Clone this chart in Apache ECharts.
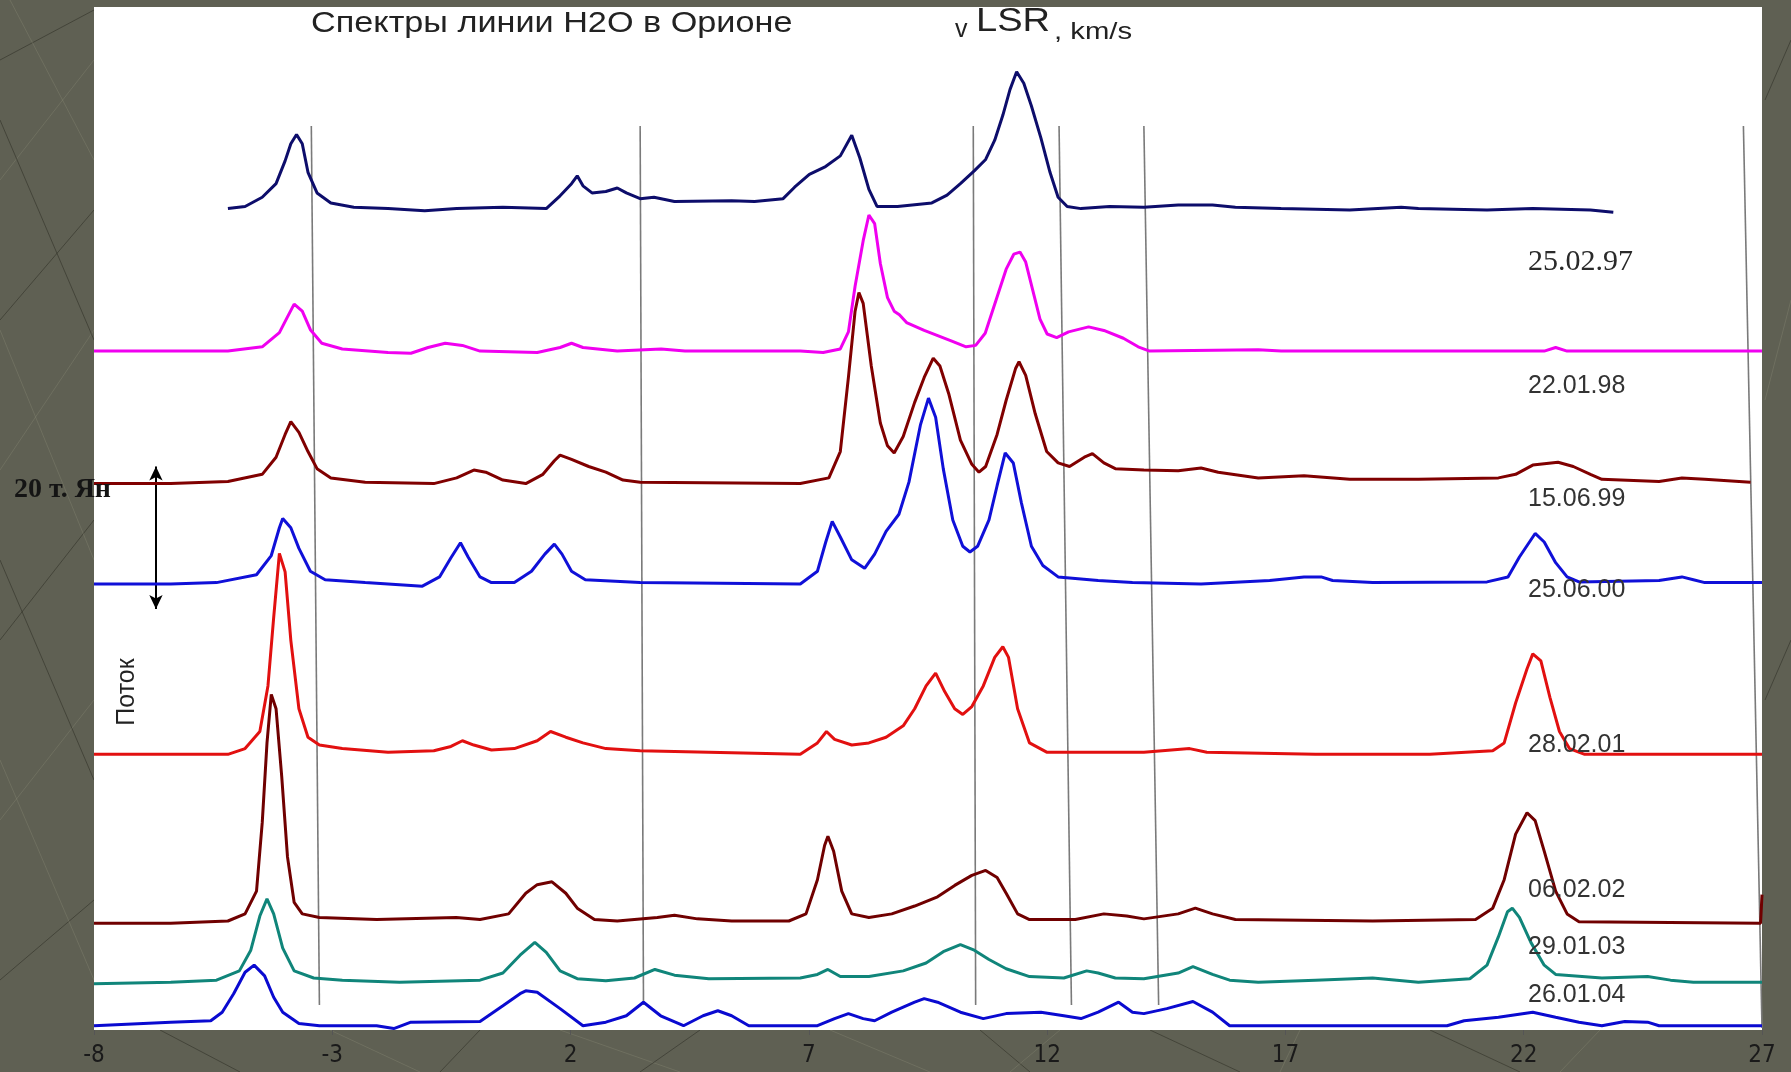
<!DOCTYPE html>
<html><head><meta charset="utf-8">
<script src="https://cdn.jsdelivr.net/npm/echarts@6/dist/echarts.min.js"></script>
<style>html,body{margin:0;padding:0;background:#5f6053;}#c{width:1791px;height:1072px;}</style>
</head><body><div id="c"></div>
<script>
// x axis: velocity V_LSR, km/s ; y: flux in thousands of Jy (each spectrum shifted by an offset)
const velocityTicks = [-8, -3, 2, 7, 12, 17, 22, 27];
const dates = ['25.02.97', '22.01.98', '15.06.99', '25.06.00', '28.02.01', '06.02.02', '29.01.03', '26.01.04'];
const offsets = [115.6, 95.6, 77.0, 62.9, 39.0, 15.3, 7.0, 0.9];
const colors = ['#0d0d6b', '#f000f0', '#800000', '#1010d8', '#e21010', '#700000', '#10857a', '#0a0ad0'];

const s97 = [[-5.19,0],[-4.83,0.3],[-4.47,1.6],[-4.18,3.5],[-3.99,6.7],[-3.87,9.1],[-3.75,10.4],[-3.63,9.1],[-3.51,5.1],[-3.32,2.2],[-3.03,0.8],[-2.55,0.2],[-1.83,0],[-1.06,-0.3],[-0.39,0],[0.58,0.2],[1.49,0],[1.78,1.8],[2.02,3.5],[2.14,4.6],[2.26,3.2],[2.45,2.2],[2.74,2.4],[2.98,2.9],[3.17,2.2],[3.46,1.4],[3.75,1.6],[4.18,1.0],[5.38,1.1],[5.86,1.0],[6.46,1.4],[6.70,3.0],[7.01,4.8],[7.35,5.9],[7.66,7.4],[7.90,10.3],[8.07,7.1],[8.26,2.7],[8.43,0.3],[8.86,0.3],[9.58,0.8],[9.90,1.9],[10.18,3.5],[10.47,5.3],[10.71,6.9],[10.90,9.6],[11.07,13.1],[11.22,16.7],[11.36,19.2],[11.51,17.6],[11.67,14.4],[11.87,9.9],[12.06,5.1],[12.23,1.6],[12.42,0.3],[12.71,0],[13.31,0.3],[14.03,0.2],[14.75,0.5],[15.47,0.5],[15.95,0.2],[16.91,0],[18.35,-0.2],[19.43,0.2],[19.79,0],[21.23,-0.2],[22.19,0],[23.40,-0.2],[23.88,-0.5]];

const s98 = [[-8,0],[-5.19,0],[-4.47,0.6],[-4.11,2.6],[-3.94,4.8],[-3.80,6.6],[-3.63,5.6],[-3.46,3.0],[-3.22,1.1],[-2.79,0.3],[-1.83,-0.2],[-1.35,-0.3],[-0.99,0.5],[-0.63,1.1],[-0.27,0.8],[0.10,0],[1.30,-0.2],[1.78,0.5],[2.02,1.1],[2.26,0.5],[2.98,0],[3.9,0.3],[4.4,0],[6.82,0],[7.30,-0.2],[7.66,0.3],[7.83,2.7],[7.97,9.1],[8.14,15.5],[8.26,19.1],[8.38,17.9],[8.50,12.3],[8.65,7.5],[8.79,5.6],[8.90,5.1],[9.05,4.0],[9.42,2.9],[10.0,1.4],[10.30,0.6],[10.50,0.8],[10.70,2.5],[10.92,7.0],[11.14,11.5],[11.30,13.6],[11.43,13.9],[11.55,12.5],[11.70,8.5],[11.85,4.5],[12.00,2.4],[12.20,1.9],[12.45,2.7],[12.87,3.4],[13.19,2.9],[13.60,1.8],[13.91,0.6],[14.15,0],[16.43,0.2],[16.91,0],[22.43,0],[22.67,0.5],[22.91,0],[27,0]];

const s99 = [[-8,0],[-6.39,0],[-5.19,0.3],[-4.47,1.3],[-4.18,3.7],[-3.99,6.9],[-3.87,8.7],[-3.70,7.2],[-3.51,4.5],[-3.32,2.1],[-3.03,0.8],[-2.31,0.2],[-0.87,0],[-0.39,0.8],[-0.03,1.9],[0.22,1.6],[0.58,0.5],[1.06,0],[1.42,1.3],[1.66,3.2],[1.78,4.0],[2.02,3.4],[2.38,2.4],[2.74,1.6],[3.10,0.5],[3.46,0.2],[6.82,0],[7.42,0.8],[7.66,4.5],[7.83,14.9],[7.97,24.2],[8.05,26.8],[8.14,25.3],[8.31,16.5],[8.50,8.5],[8.65,5.3],[8.79,4.3],[8.98,6.6],[9.22,11.4],[9.42,14.9],[9.61,17.6],[9.75,16.5],[9.94,12.5],[10.18,6.1],[10.42,2.7],[10.57,1.6],[10.71,2.4],[10.95,6.9],[11.14,11.7],[11.34,16.2],[11.41,17.1],[11.55,15.2],[11.75,9.8],[11.99,4.5],[12.23,2.9],[12.47,2.4],[12.78,3.7],[12.95,4.2],[13.19,2.9],[13.43,2.1],[14.03,1.9],[14.75,1.8],[15.23,2.2],[15.59,1.6],[16.43,0.8],[17.39,1.1],[18.35,0.6],[19.79,0.6],[21.47,0.8],[21.83,1.3],[22.19,2.6],[22.72,3.0],[23.04,2.4],[23.40,1.3],[23.64,0.6],[24.84,0.3],[25.32,0.8],[25.80,0.6],[26.76,0.2]];

const s00 = [[-8,0],[-6.39,0],[-5.43,0.2],[-4.59,1.3],[-4.28,4.0],[-4.11,7.9],[-4.04,9.2],[-3.87,7.9],[-3.70,5.0],[-3.46,1.8],[-3.15,0.6],[-2.31,0.2],[-1.11,-0.3],[-0.75,1.0],[-0.51,3.7],[-0.31,5.8],[-0.15,3.8],[0.10,1.0],[0.34,0.2],[0.82,0.2],[1.18,1.8],[1.46,4.2],[1.66,5.6],[1.82,4.2],[2.02,1.8],[2.31,0.6],[3.46,0.2],[6.82,0],[7.18,1.8],[7.35,5.8],[7.49,8.8],[7.66,6.6],[7.90,3.4],[8.17,2.2],[8.38,4.2],[8.62,7.4],[8.89,9.8],[9.10,14.3],[9.34,22.3],[9.51,26.1],[9.66,23.4],[9.82,16.2],[10.02,9.0],[10.23,5.3],[10.38,4.5],[10.54,5.3],[10.78,9.0],[10.95,13.8],[11.12,18.4],[11.29,17.0],[11.46,11.4],[11.67,5.3],[11.91,2.6],[12.23,1.0],[13.07,0.5],[13.79,0.2],[15.23,0],[16.67,0.5],[17.39,1.0],[17.75,1.0],[17.99,0.5],[18.83,0.2],[21.23,0.3],[21.67,1.0],[21.91,3.8],[22.24,7.1],[22.43,5.9],[22.67,3.0],[22.91,1.0],[23.16,0.3],[24.84,0.5],[25.32,1.0],[25.56,0.6],[25.80,0.2],[27,0.2]];

const s01 = [[-8,0],[-5.19,0],[-4.83,0.8],[-4.52,3.2],[-4.35,9.6],[-4.23,19.2],[-4.11,28.2],[-3.99,25.6],[-3.87,16.0],[-3.70,6.4],[-3.51,2.4],[-3.27,1.3],[-2.79,0.8],[-1.83,0.3],[-0.87,0.5],[-0.51,1.1],[-0.27,1.9],[-0.03,1.3],[0.34,0.6],[0.82,0.8],[1.30,1.9],[1.58,3.2],[1.90,2.4],[2.26,1.6],[2.74,0.8],[3.46,0.5],[6.82,0],[7.18,1.6],[7.37,3.2],[7.54,2.1],[7.90,1.3],[8.26,1.6],[8.62,2.4],[8.98,4.0],[9.22,6.4],[9.46,9.6],[9.66,11.4],[9.85,8.8],[10.06,6.4],[10.23,5.6],[10.42,6.7],[10.66,9.6],[10.90,13.6],[11.07,15.1],[11.19,13.6],[11.38,6.4],[11.63,1.6],[11.99,0.3],[14.03,0.3],[14.99,0.8],[15.35,0.3],[17.63,0],[20.03,0],[21.35,0.5],[21.59,1.6],[21.83,7.2],[22.07,12.0],[22.19,14.1],[22.36,13.1],[22.55,8.0],[22.75,3.2],[22.96,0.8],[23.28,0],[27,0]];

const s02 = [[-8,0],[-6.39,0],[-5.19,0.3],[-4.83,1.3],[-4.59,4.5],[-4.47,14.1],[-4.37,25.3],[-4.28,32.1],[-4.18,30.1],[-4.06,20.5],[-3.94,9.3],[-3.80,2.9],[-3.63,1.3],[-3.27,0.8],[-2.07,0.5],[-0.4,0.8],[0.10,0.5],[0.70,1.3],[1.06,4.2],[1.30,5.4],[1.61,5.8],[1.90,4.2],[2.14,2.1],[2.50,0.5],[2.98,0.3],[3.82,0.8],[4.18,1.1],[4.66,0.6],[5.38,0.3],[6.58,0.3],[6.94,1.3],[7.18,6.1],[7.33,10.9],[7.40,12.2],[7.52,10.1],[7.69,4.5],[7.90,1.3],[8.26,0.8],[8.74,1.3],[9.22,2.4],[9.70,3.7],[10.06,5.3],[10.42,6.7],[10.71,7.4],[10.95,6.4],[11.14,4.2],[11.38,1.3],[11.63,0.5],[12.59,0.5],[13.19,1.3],[13.67,1.0],[14.03,0.6],[14.75,1.3],[15.11,2.1],[15.47,1.3],[15.95,0.5],[18.83,0.3],[20.99,0.5],[21.35,2.1],[21.59,6.1],[21.83,12.5],[22.07,15.5],[22.24,14.4],[22.43,10.1],[22.67,4.5],[22.91,1.3],[23.16,0.2],[26.97,0],[27,4]];

const s03 = [[-8,-0.2],[-6.39,0],[-5.43,0.3],[-4.95,1.6],[-4.71,4.5],[-4.52,9.3],[-4.37,11.7],[-4.23,9.6],[-4.04,4.8],[-3.80,1.6],[-3.39,0.6],[-2.79,0.3],[-1.59,0],[0.10,0.3],[0.58,1.3],[0.94,3.8],[1.25,5.6],[1.49,4.2],[1.78,1.6],[2.14,0.5],[2.74,0.2],[3.34,0.6],[3.77,1.8],[4.18,1.0],[4.90,0.5],[6.82,0.6],[7.18,1.1],[7.40,1.8],[7.66,0.8],[8.26,0.8],[8.98,1.6],[9.46,2.7],[9.82,4.3],[10.18,5.3],[10.47,4.5],[10.78,3.2],[11.14,1.9],[11.63,0.8],[12.35,0.6],[12.83,1.6],[13.07,1.3],[13.43,0.6],[14.03,0.5],[14.75,1.3],[15.06,2.2],[15.47,1.1],[15.83,0.3],[16.43,0],[17.63,0.3],[18.83,0.6],[19.79,0],[20.87,0.5],[21.23,2.4],[21.47,6.4],[21.66,9.9],[21.76,10.4],[21.91,9.1],[22.15,5.6],[22.43,2.4],[22.67,1.1],[23.64,0.6],[24.60,0.8],[25.08,0.3],[25.56,0],[27,0]];

const s04 = [[-8,0],[-6.39,0.5],[-5.55,0.7],[-5.31,1.9],[-5.07,4.5],[-4.83,7.5],[-4.64,8.5],[-4.42,7.0],[-4.23,4.0],[-4.04,1.9],[-3.70,0.3],[-3.27,0],[-2.07,0],[-1.71,-0.4],[-1.35,0.5],[0.10,0.6],[0.58,2.8],[0.94,4.5],[1.06,4.9],[1.30,4.7],[1.78,2.4],[2.26,0],[2.74,0.5],[3.17,1.4],[3.53,3.3],[3.89,1.4],[4.37,0],[4.78,1.4],[5.09,2.1],[5.38,1.4],[5.74,0],[7.18,0],[7.54,1.0],[7.83,1.7],[8.14,1.0],[8.38,0.7],[8.74,1.9],[9.22,3.3],[9.42,3.8],[9.70,3.3],[10.18,1.9],[10.66,1.0],[11.14,1.7],[11.87,1.9],[12.35,1.4],[12.71,1.0],[13.07,1.9],[13.50,3.3],[13.79,1.9],[14.03,1.7],[14.51,2.4],[15.06,3.4],[15.47,1.9],[15.83,0],[20.39,0],[20.75,0.7],[21.47,1.2],[22.19,1.9],[22.67,1.2],[23.16,0.5],[23.64,0],[24.12,0.6],[24.60,0.5],[24.84,0],[27,0]];

const spectra = [s97, s98, s99, s00, s01, s02, s03, s04];

// slanted grey reference lines: [vTop, yTop, vBottom, yBottom]
const guideLines = [[-3.44,127.2,-3.27,3.8],[3.46,127.2,3.53,3.8],[10.45,127.2,10.50,3.8],[12.25,127.2,12.51,3.8],[14.03,127.2,14.34,3.8],[26.61,127.2,27.0,0.6]];
// 20 thousand Jy scale bar
const scaleBar = {v: -6.70, from: 59.4, to: 79.4};

const chart = echarts.init(document.getElementById('c'), null, {renderer: 'canvas'});

const series = [];
guideLines.forEach(g => series.push({
  type: 'line', data: [[g[0], g[1]], [g[2], g[3]]], showSymbol: false, silent: true,
  lineStyle: {color: '#7a7a7a', width: 1.6}, z: 1, animation: false
}));
spectra.forEach((s, i) => series.push({
  type: 'line', name: dates[i], data: s.map(p => [p[0], +(p[1] + offsets[i]).toFixed(2)]),
  showSymbol: false, lineStyle: {color: colors[i], width: 3}, z: 3 + i, animation: false
}));
series.push({
  type: 'line', data: [], silent: true, animation: false,
  markLine: {
    silent: true, symbol: ['arrow', 'arrow'], symbolSize: [10, 14], animation: false,
    lineStyle: {color: '#000', width: 2, type: 'solid'}, label: {show: false},
    data: [[{coord: [scaleBar.v, scaleBar.from]}, {coord: [scaleBar.v, scaleBar.to]}]]
  }
});

// faint texture of the slide background (margins only)
const texDark = 'rgba(45,46,36,0.55)', texLight = 'rgba(150,150,130,0.28)';
const texture = [
  [[0,60],[94,10]],[[0,180],[94,60]],[[0,320],[94,210]],[[0,470],[94,330]],[[0,640],[94,520]],[[0,820],[94,700]],[[0,980],[94,900]],
  [[10,0],[94,160]],[[0,120],[94,340]],[[0,330],[94,560]],[[0,560],[94,780]],[[0,760],[94,980]],
  [[160,1030],[240,1072]],[[330,1030],[420,1072]],[[480,1030],[440,1072]],[[560,1030],[680,1072]],[[700,1030],[640,1072]],
  [[830,1030],[930,1072]],[[980,1030],[1030,1072]],[[1060,1030],[1010,1072]],[[1150,1030],[1240,1072]],[[1300,1030],[1280,1072]],[[1430,1030],[1520,1072]],[[1600,1030],[1560,1072]],
  [[1765,100],[1791,40]],[[1765,400],[1791,300]],[[1765,700],[1791,640]]
];
const dateY = [262, 386, 499, 590, 745, 890, 947, 995];
const graphics = [];
texture.forEach((t, i) => graphics.push({type: 'line', silent: true, z: -10,
  shape: {x1: t[0][0], y1: t[0][1], x2: t[1][0], y2: t[1][1]},
  style: {stroke: i % 2 ? texLight : texDark, lineWidth: 1}}));
graphics.push(
  {type: 'text', x: 311, y: 24, scaleX: 1.18, style: {text: 'Спектры линии H2O в Орионе', fontSize: 29, fontFamily: 'Liberation Sans', fill: '#222', verticalAlign: 'middle'}, z: 20},
  {type: 'text', x: 955, y: 30, style: {text: 'v', fontSize: 25, fontFamily: 'Liberation Sans', fill: '#222', verticalAlign: 'middle'}, z: 20},
  {type: 'text', x: 976, y: 22, scaleX: 1.12, style: {text: 'LSR', fontSize: 34, fontFamily: 'Liberation Sans', fill: '#222', verticalAlign: 'middle'}, z: 20},
  {type: 'text', x: 1054, y: 32, scaleX: 1.22, style: {text: ', km/s', fontSize: 24, fontFamily: 'Liberation Sans', fill: '#222', verticalAlign: 'middle'}, z: 20},
  {type: 'text', x: 14, y: 490, style: {text: '20 т. Ян', fontSize: 28, fontWeight: 'bold', fontFamily: 'Liberation Serif', fill: '#141414', verticalAlign: 'middle'}, z: 20},
  {type: 'text', x: 127, y: 692, rotation: Math.PI / 2, style: {text: 'Поток', fontSize: 25, fontFamily: 'Liberation Sans', fill: '#222', align: 'center', verticalAlign: 'middle'}, z: 20}
);
dates.forEach((d, i) => graphics.push({
  type: 'text', x: 1528, y: dateY[i], z: 20,
  style: i === 0
    ? {text: d, fontSize: 30, fontFamily: 'Liberation Serif', fill: '#2a2a2a', verticalAlign: 'middle'}
    : {text: d, fontSize: 25, fontFamily: 'Liberation Sans', fill: '#333', verticalAlign: 'middle'}
}));

chart.setOption({
  backgroundColor: '#5f6053',
  animation: false,
  grid: {left: 94, right: 29, top: 7, bottom: 42, show: true, backgroundColor: '#ffffff', borderWidth: 0},
  xAxis: {
    type: 'value', min: -8, max: 27,
    axisLine: {show: false},
    axisTick: {show: true, length: 5, lineStyle: {color: '#555'}, customValues: velocityTicks},
    axisLabel: {customValues: velocityTicks, fontSize: 24, fontFamily: '"Liberation Sans Narrow", "DejaVu Sans Condensed", "Liberation Sans", sans-serif', color: '#1a1a1a', margin: 14},
    splitLine: {show: false}
  },
  yAxis: {type: 'value', min: 0.3, max: 143.9, show: false, splitLine: {show: false}},
  series: series,
  graphic: graphics
});
</script></body></html>
